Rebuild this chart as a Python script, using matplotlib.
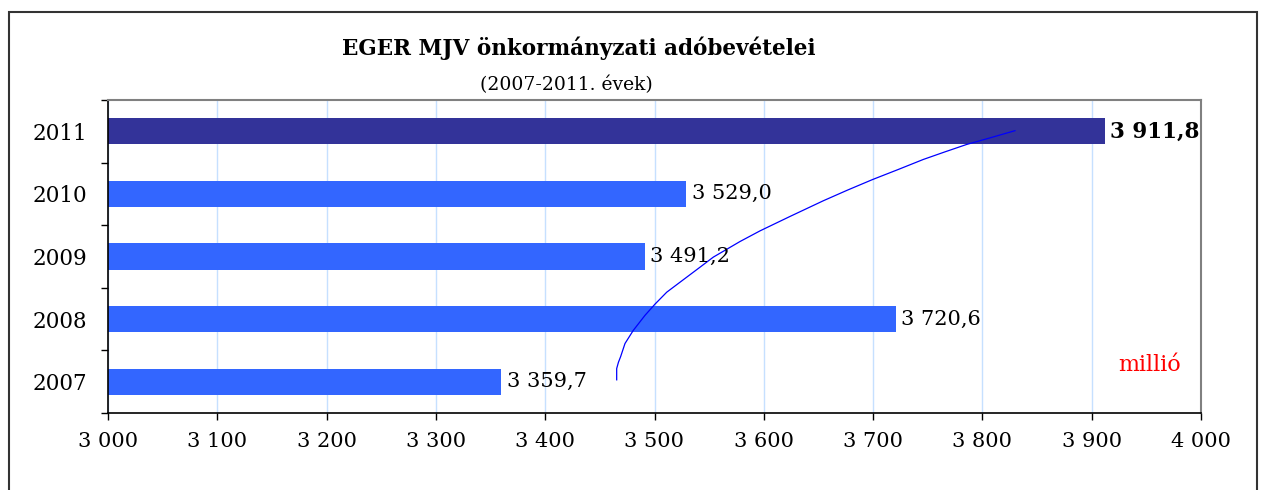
import matplotlib
matplotlib.use("Agg")
import matplotlib.pyplot as plt
from matplotlib.patches import Rectangle

years = ["2007", "2008", "2009", "2010", "2011"]
values = [3359.7, 3720.6, 3491.2, 3529.0, 3911.8]
xticks = [3000, 3100, 3200, 3300, 3400, 3500, 3600, 3700, 3800, 3900, 4000]

# trend curve, points (value, category position)
trend_x = [3465.4, 3465.4, 3467.0, 3469.0, 3473.0, 3480.6, 3491.3, 3500.5, 3511.2, 3523.4,
           3541.7, 3553.8, 3578.3, 3596.6, 3624.0, 3654.4, 3676.5, 3699.6, 3723.0, 3745.9,
           3765.5, 3785.6, 3808.0, 3829.8]
trend_y = [0.03, 0.21, 0.31, 0.40, 0.61, 0.82, 1.06, 1.24, 1.43, 1.59,
           1.83, 1.99, 2.24, 2.41, 2.64, 2.89, 3.06, 3.23, 3.39, 3.55,
           3.67, 3.79, 3.90, 4.01]

plt.rcParams['font.family'] = ['DejaVu Serif']

fig = plt.figure(figsize=(12.63, 4.9), dpi=100)
ax = fig.add_axes([108/1263, 1-413/490, 1093/1263, 313/490])

colors = ['#3366FF'] * 4 + ['#333399']
pos = list(range(len(years)))
ax.barh(pos, [v - 3000 for v in values], left=3000, height=0.42, color=colors, zorder=2)

for i, v in enumerate(values):
    lab = f"{v:,.1f}".replace(",", " ").replace(".", ",")
    ax.text(v + 5, i, lab, va='center', ha='left', fontsize=15.5 if i == 4 else 15,
            fontweight='bold' if i == 4 else 'normal', zorder=4)

ax.plot(trend_x, trend_y, color='#0000FF', lw=0.9, zorder=3)

ax.set_xlim(3000, 4000)
ax.set_ylim(-0.5, 4.5)
ax.set_xticks(xticks)
ax.set_xticklabels([f"{t:,}".replace(",", " ") for t in xticks], fontsize=15)
ax.set_yticks(pos)
ax.set_yticklabels(years, fontsize=15.5)
ax.set_yticks([p - 0.5 for p in pos] + [4.5], minor=True)
ax.tick_params(axis='y', which='major', length=0, pad=15)
ax.tick_params(axis='y', which='minor', length=5, direction='out', width=1)
ax.tick_params(axis='x', length=5, direction='out', width=1, pad=9)
ax.grid(axis='x', color='#C6E0FF', lw=1, zorder=0)

for s in ['top', 'right']:
    ax.spines[s].set_color('#808080')
    ax.spines[s].set_linewidth(1.5)
for s in ['left', 'bottom']:
    ax.spines[s].set_color('black')
    ax.spines[s].set_linewidth(1.2)

ax.text(0.953, 0.153, "millió", color='red', fontsize=16, ha='center', va='center',
        transform=ax.transAxes)

fig.text(579/1263, 1-48/490, "EGER MJV önkormányzati adóbevételei", ha='center', va='center',
         fontsize=15.5, fontweight='bold')
fig.text(566/1263, 1-85/490, "(2007-2011. évek)", ha='center', va='center', fontsize=13.5)

fig.add_artist(Rectangle((9/1263, -0.1), 1248/1263, 1.1 - 12.5/490, transform=fig.transFigure,
                         fill=False, edgecolor='#333333', lw=1.5))

fig.savefig("out.png", dpi=100)
